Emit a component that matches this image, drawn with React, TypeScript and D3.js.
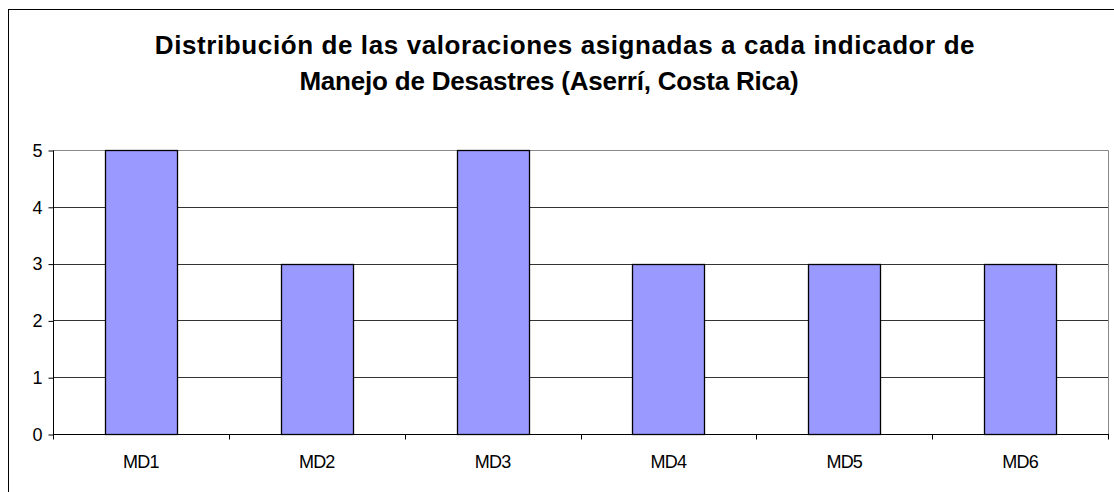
import React, { useEffect, useRef } from 'react';
import * as d3 from 'd3';

const categories = ['MD1', 'MD2', 'MD3', 'MD4', 'MD5', 'MD6'];
const values = [5, 3, 5, 3, 3, 3];
const yTicks = [0, 1, 2, 3, 4, 5];
const titleLines = [
  'Distribución de las valoraciones asignadas a cada indicador de',
  'Manejo de Desastres (Aserrí, Costa Rica)',
];

export default function App() {
  const ref = useRef<SVGSVGElement>(null);

  useEffect(() => {
    const width = 1114, height = 492;
    const plot = { left: 53, right: 1108, top: 150, bottom: 434 };

    const svg = d3.select(ref.current).attr('width', width).attr('height', height);
    svg.selectAll('*').remove();

    svg.append('rect').attr('width', width).attr('height', height).attr('fill', '#fff');

    // chart area border (runs off the right and bottom)
    svg.append('rect')
      .attr('x', 8.5).attr('y', 9.5)
      .attr('width', width + 20).attr('height', height + 20)
      .attr('fill', 'none').attr('stroke', '#000');

    const x = d3.scaleBand()
      .domain(categories)
      .range([plot.left, plot.right])
      .paddingInner(0.59)
      .paddingOuter(0.295);

    const y = d3.scaleLinear().domain([0, 5]).range([plot.bottom, plot.top]);

    const font = '"Liberation Sans", Arial, sans-serif';

    // title (Excel centres the two lines slightly differently)
    const titleX = [565, 549];
    const titleSpacing = [0.6, -0.2];
    svg.append('g')
      .selectAll('text')
      .data(titleLines)
      .enter()
        .append('text')
        .attr('x', (d, i) => titleX[i])
        .attr('y', (d, i) => 54 + i * 36)
        .attr('text-anchor', 'middle')
        .attr('font-family', font)
        .attr('font-weight', 'bold')
        .attr('font-size', 26)
        .attr('letter-spacing', (d, i) => titleSpacing[i])
        .text(d => d);

    // gridlines
    svg.append('g')
      .selectAll('line')
      .data(yTicks.filter(t => t > 0 && t < 5))
      .enter()
        .append('line')
        .attr('x1', plot.left).attr('x2', plot.right)
        .attr('y1', d => Math.round(y(d)) + 0.5).attr('y2', d => Math.round(y(d)) + 0.5)
        .attr('stroke', '#333');

    // plot border top/right
    svg.append('path')
      .attr('d', `M${plot.left},${plot.top + 0.5}H${plot.right + 0.5}V${plot.bottom}`)
      .attr('fill', 'none').attr('stroke', '#888');

    // bars
    svg.append('g')
      .selectAll('rect')
      .data(values)
      .enter()
        .append('rect')
        .attr('x', (d, i) => Math.round(x(categories[i])!) + 0.5)
        .attr('y', d => Math.round(y(d)) + 0.5)
        .attr('width', Math.round(x.bandwidth()))
        .attr('height', d => Math.round(y(0)) - Math.round(y(d)))
        .attr('fill', '#9999ff')
        .attr('stroke', '#000')
        .attr('stroke-width', 1.3);

    // y axis
    const yAxis = d3.axisLeft(y).tickValues(yTicks).tickFormat(d3.format('d')).tickSize(5).tickPadding(6);
    const gy = svg.append('g')
      .attr('transform', `translate(${plot.left + 0.5},0.5)`)
      .call(yAxis);
    gy.select('.domain').attr('d', `M0,${plot.top}V${plot.bottom}`);
    gy.selectAll('text').attr('font-family', font).attr('font-size', 18).attr('fill', '#000');

    // x axis
    const step = x.step();
    const bounds = d3.range(categories.length + 1).map(i => plot.left + i * step);
    const gx = svg.append('g').attr('transform', `translate(0,${plot.bottom + 0.5})`);
    gx.append('line')
      .attr('x1', plot.left).attr('x2', plot.right + 1)
      .attr('stroke', '#000');
    gx.selectAll('line.tick')
      .data(bounds)
      .enter()
        .append('line')
        .attr('class', 'tick')
        .attr('x1', d => Math.round(d) + 0.5).attr('x2', d => Math.round(d) + 0.5)
        .attr('y1', 0).attr('y2', 5)
        .attr('stroke', '#000');
    gx.selectAll('text')
      .data(categories)
      .enter()
        .append('text')
        .attr('x', d => x(d)! + x.bandwidth() / 2)
        .attr('y', 33)
        .attr('text-anchor', 'middle')
        .attr('font-family', font)
        .attr('font-size', 18)
        .attr('letter-spacing', -0.8)
        .text(d => d);
  }, []);

  return (
    <div>
      <svg ref={ref} style={{ position: 'absolute', left: 0, top: 0 }}></svg>
    </div>
  );
}
